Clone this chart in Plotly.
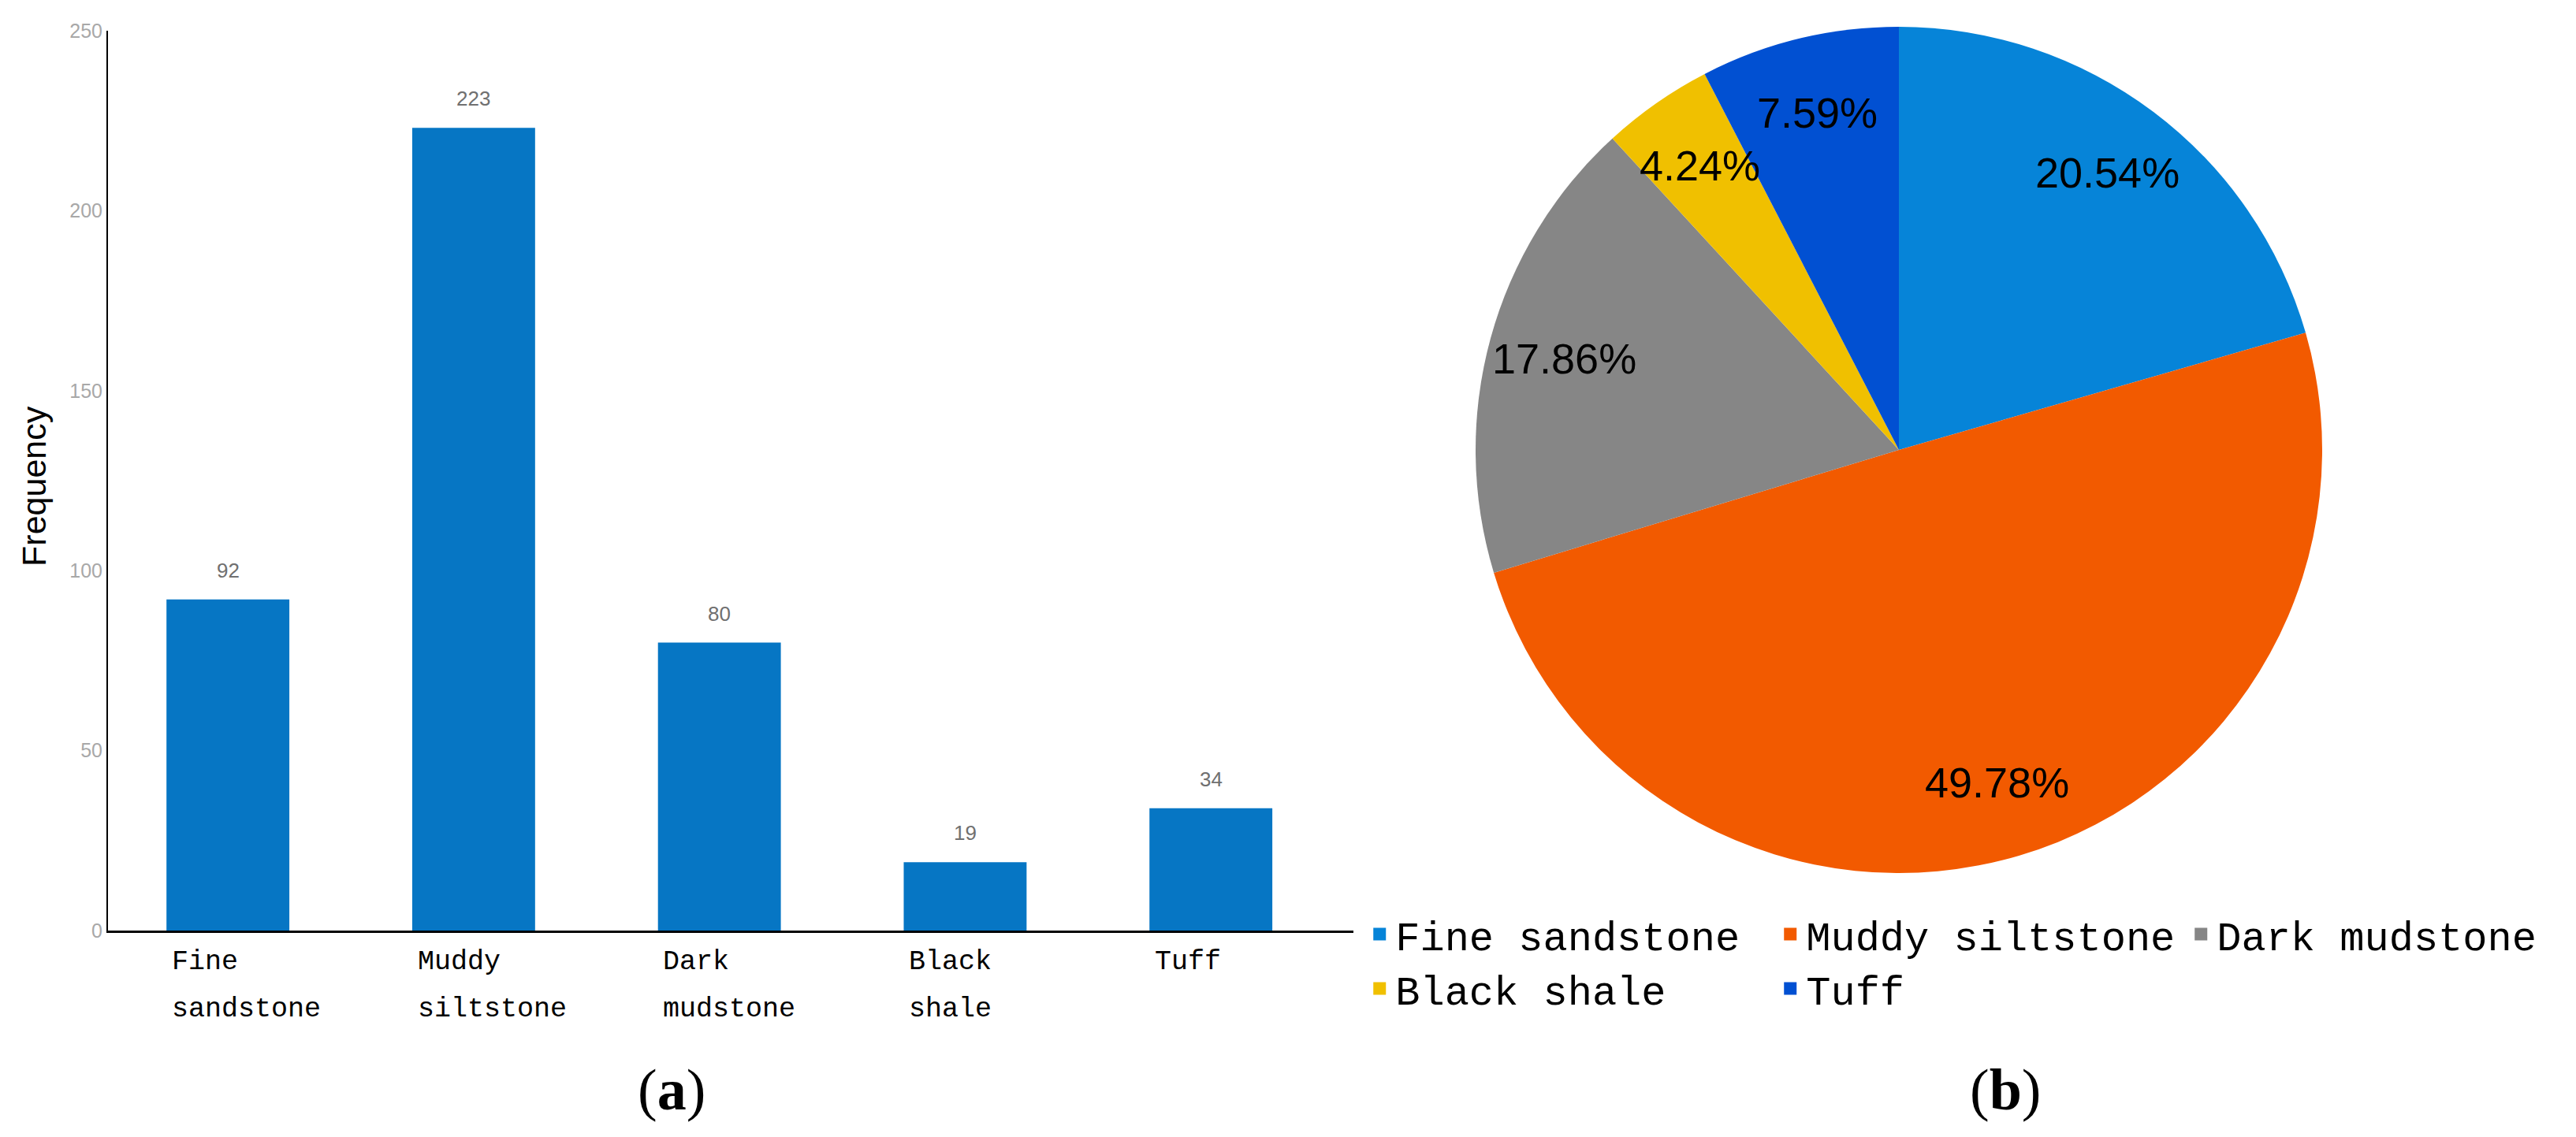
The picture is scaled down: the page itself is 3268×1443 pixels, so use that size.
import numpy as np
import plotly.graph_objects as go

# Data
categories = ["Fine sandstone", "Muddy siltstone", "Dark mudstone", "Black shale", "Tuff"]
tick_labels = ["Fine<br>sandstone", "Muddy<br>siltstone", "Dark<br>mudstone", "Black<br>shale", "Tuff"]
frequency = [92, 223, 80, 19, 34]
y_ticks = [0, 50, 100, 150, 200, 250]

bar_color = "#0676c4"
pie_colors = ["#0684d8", "#f25a00", "#868686", "#f0c000", "#0150d2"]

MONO = "Liberation Mono, Courier New, monospace"
SANS = "Liberation Sans, Arial, sans-serif"
SERIF = "Liberation Serif, Times New Roman, serif"

W, H = 3268, 1443
# pie placement (pixels) -> domain
pie_cx, pie_cy, pie_r = 2401, 563, 537
pie_dom_x = [(pie_cx - pie_r) / W, (pie_cx + pie_r) / W]
pie_dom_y = [(H - pie_cy - pie_r) / H, (H - pie_cy + pie_r) / H]

fig = go.Figure()

# (a) bar chart of frequencies
fig.add_trace(go.Bar(
    x=categories,
    y=frequency,
    marker=dict(color=bar_color, line=dict(width=0)),
    width=0.5,
    showlegend=False,
    xaxis="x", yaxis="y",
))

# (b) pie chart of the same counts
fig.add_trace(go.Pie(
    labels=categories,
    values=frequency,
    sort=False,
    direction="clockwise",
    rotation=0,
    marker=dict(colors=pie_colors, line=dict(width=0)),
    textinfo="none",
    domain=dict(x=pie_dom_x, y=pie_dom_y),
    showlegend=False,
))

# legend entries for the pie, split over two rows like the original
for i, (name, col) in enumerate(zip(categories, pie_colors)):
    fig.add_trace(go.Scatter(
        x=[None], y=[None], mode="markers", name=name,
        marker=dict(symbol="square", size=16, color=col),
        legend="legend" if i < 3 else "legend2",
        xaxis="x", yaxis="y",
    ))

annotations = []
# value labels above bars
for cat, v in zip(categories, frequency):
    annotations.append(dict(
        x=cat, y=v, xref="x", yref="y", text=str(v), showarrow=False,
        yanchor="bottom", yshift=20,
        font=dict(family=SANS, size=26, color="#707070"),
    ))
# category labels, left aligned under each bar (one annotation per line for wider spacing)
for i, lab in enumerate(tick_labels):
    for k, line in enumerate(lab.split("<br>")):
        annotations.append(dict(
            x=i - 0.235, y=0, xref="x", yref="y", text=line, showarrow=False,
            xanchor="left", yanchor="top", align="left", yshift=-18 - 60 * k,
            font=dict(family=MONO, size=35, color="black"),
        ))

# percentage labels placed along each slice's mid angle (like the Excel original)
vals = np.array(frequency, dtype=float)
frac = vals / vals.sum()
mid = np.cumsum(frac) - frac / 2
theta = 2 * np.pi * mid
r_lab = 0.82 * pie_r
for f, t in zip(frac, theta):
    px = pie_cx + r_lab * np.sin(t)
    py = (H - pie_cy) + r_lab * np.cos(t)
    annotations.append(dict(
        x=px / W, y=py / H, xref="paper", yref="paper", text=f"{f * 100:.2f}%",
        showarrow=False, xanchor="center", yanchor="middle",
        font=dict(family="Liberation Sans Narrow, " + SANS, size=54, color="black"),
    ))

annotations += [
    dict(x=35 / W, y=0.578, xref="paper", yref="paper", text="Frequency",
         textangle=-90, showarrow=False, xanchor="center", yanchor="middle",
         font=dict(family=SANS, size=43, color="black")),
    dict(x=844 / W, y=0.047, xref="paper", yref="paper", text="(<b>a</b>)",
         showarrow=False, xanchor="center", yanchor="middle",
         font=dict(family=SERIF, size=74, color="black")),
    dict(x=2536 / W, y=0.047, xref="paper", yref="paper", text="(<b>b</b>)",
         showarrow=False, xanchor="center", yanchor="middle",
         font=dict(family=SERIF, size=74, color="black")),
]

legend_style = dict(
    orientation="h", xanchor="left", yanchor="middle",
    font=dict(family=MONO, size=52, color="black"),
    entrywidth=476, itemwidth=30, bgcolor="rgba(0,0,0,0)",
    itemclick=False, itemdoubleclick=False,
)

fig.update_layout(
    width=W, height=H,
    margin=dict(l=0, r=0, t=0, b=0, autoexpand=False),
    paper_bgcolor="white", plot_bgcolor="white",
    xaxis=dict(
        domain=[129 / W, 1709 / W], range=[-0.488, 4.58],
        showticklabels=False, ticks="", showgrid=False, zeroline=False,
        showline=True, linecolor="black", linewidth=3,
    ),
    yaxis=dict(
        domain=[0.1871, 0.9785], range=[0, 250],
        tickvals=y_ticks, ticks="", showgrid=False, zeroline=False,
        showline=True, linecolor="black", linewidth=2,
        tickfont=dict(family=SANS, size=25, color="#a8a8a8"),
    ),
    legend=dict(x=0.527, y=0.1838, **legend_style),
    legend2=dict(x=0.527, y=0.1360, **legend_style),
    annotations=annotations,
)

fig.write_html("out.html")
